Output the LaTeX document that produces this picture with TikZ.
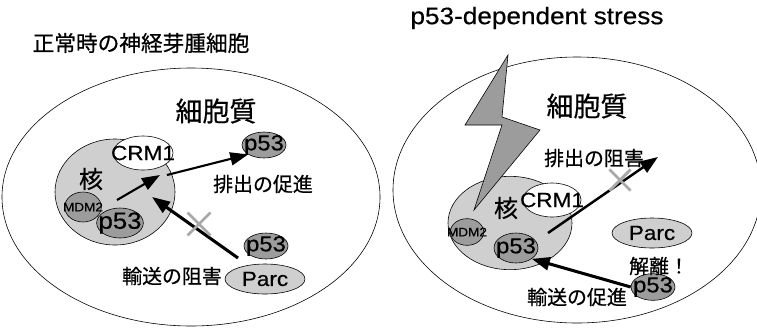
\documentclass[tikz,border=0pt]{standalone}
\usepackage{fontspec}
\setmainfont{Noto Sans CJK JP}[FakeBold=0.6]
\newfontfamily\latfont[FakeStretch=1.1,FakeBold=0.5]{Liberation Sans}
\usetikzlibrary{arrows.meta,shapes.geometric,shapes.misc}
\definecolor{nucgray}{HTML}{CFCFCF}
\definecolor{molgray}{HTML}{9C9C9C}
\definecolor{xgray}{HTML}{A8A8A8}
\newcommand{\fs}[1]{\fontsize{#1}{#1}\selectfont}
\tikzset{>={Triangle[length=5.4mm,width=3.9mm]},
  cellwall/.style={draw,line width=0.5pt},
  nucleus/.style={ellipse,draw,line width=0.5pt,fill=nucgray,inner sep=0pt},
  prot/.style={ellipse,draw,line width=0.5pt,fill=molgray,inner sep=0pt,
    label={[tag]center:#1}},
  carrier/.style={prot=#1,fill=white},
  parc/.style={prot=#1,fill=nucgray},
  tag/.style={font=\latfont\fs{18.5}},
  jlab/.style={font=\fs{17},inner sep=0pt},
  cyto/.style={font=\fs{23},inner sep=0pt},
  kaku/.style={font=\fs{20.5},inner sep=0pt},
  flow/.style={->,line width=1.8pt},
  flowthick/.style={->,line width=2.6pt},
  blocked/.style={cross out,draw=xgray,line width=2.4pt,minimum size=0.6cm,inner sep=0pt},
}

\begin{document}
\begin{tikzpicture}[x=0.03cm,y=-0.03cm]
  \useasboundingbox (0,0) rectangle (757,327);

  % ---- normal neuroblastoma cell
  \node[font=\fs{18.5},inner sep=0pt] (titleL) at (141,43) {正常時の神経芽腫細胞};
  \draw[cellwall] (191,197) ellipse [x radius=189, y radius=129];
  \node[cyto] (cytoL) at (216,111) {細胞質};

  \node[nucleus,minimum width=3.6cm,minimum height=3.18cm] (nucL) at (115,192) {};
  \node[kaku] (kakuL) at (91,179) {核};
  \node[carrier={\fs{17.5}CRM1},minimum width=1.8cm,minimum height=1.02cm] (crmL) at (143,153) {};
  \node[prot={\fs{10.5}MDM2},minimum width=1.1cm,minimum height=0.9cm] (mdmL) at (83,207) {};
  \node[prot={\fs{20}p53},minimum width=1.4cm,minimum height=0.9cm] (pL) at (120,223) {};

  \node[prot=p53,minimum width=1.32cm,minimum height=0.78cm] (pOutL) at (264,145) {};
  \node[prot=p53,minimum width=1.32cm,minimum height=0.78cm] (pFreeL) at (266,246) {};
  \node[parc={\fs{17.5}Parc},minimum width=2.4cm,minimum height=0.9cm] (parcL) at (265,279) {};

  \node[jlab] (exportL) at (263,184) {排出の促進};
  \node[jlab] (importL) at (172,276) {輸送の阻害};

  \coordinate (a1s) at (117,200);
  \coordinate (a1e) at (160,175);
  \coordinate (a2s) at (167,175);
  \coordinate (a3s) at (238,258);
  \coordinate (a3e) at (152,197);
  \draw[flow] (a1s) -- (a1e);
  \draw[flow] (a2s) -- (pOutL.south west);
  \draw[flowthick] (a3s) -- (a3e);
  \node[blocked] (stopL) at (199,224) {};

  % ---- under p53-dependent stress
  \node[font=\latfont\fs{20.3},inner sep=0pt] (titleR) at (537,18) {p53-dependent stress};
  \draw[cellwall] (577,190) ellipse [x radius=184, y radius=133];
  \node[cyto] (cytoR) at (587,106) {細胞質};

  \node[nucleus,minimum width=3.72cm,minimum height=2.8cm] (nucR) at (510,223) {};
  \draw[line width=0.5pt,fill=molgray] (508,55) -- (465,125) -- (502,125) -- (474,210)
     -- (540,130) -- (502,117) -- cycle;
  \node[kaku] (kakuR) at (506,208) {核};
  \node[carrier={\fs{17.5}CRM1},minimum width=1.74cm,minimum height=1.02cm] (crmR) at (552,200) {};
  \node[prot={\fs{10.5}MDM2},minimum width=1.0cm,minimum height=0.8cm] (mdmR) at (467,232) {};
  \node[prot=p53,minimum width=1.32cm,minimum height=0.9cm] (pR) at (516,248) {};

  \node[parc={\fs{17.5}Parc},minimum width=2.4cm,minimum height=0.9cm] (parcR) at (652,233) {};
  \node[prot=p53,minimum width=1.32cm,minimum height=0.8cm] (pFreeR) at (653,287) {};

  \node[jlab] (exportR) at (594,158) {排出の阻害};
  \node[jlab] (releaseR) at (659,266) {解離！};
  \node[jlab] (importR) at (577,297) {輸送の促進};

  \coordinate (b1s) at (548,233);
  \coordinate (b1e) at (658,157);
  \draw[flow,line width=2.1pt] (b1s) -- (b1e);
  \node[blocked,minimum size=0.55cm] (stopR) at (620,180) {};
  \draw[flowthick] (pFreeR.west) -- (pR.south east);
\end{tikzpicture}
\end{document}
